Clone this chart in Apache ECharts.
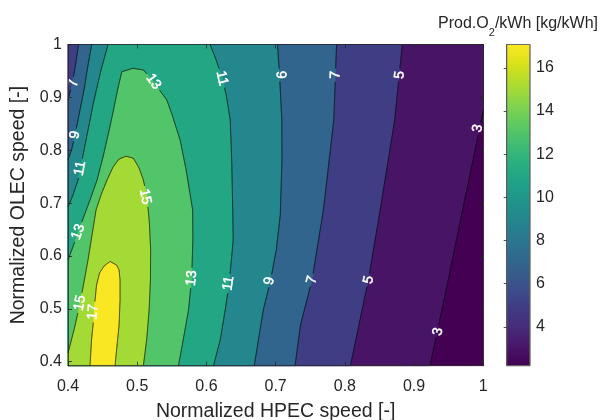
<!DOCTYPE html>
<html>
<head>
<meta charset="utf-8">
<script src="https://cdn.jsdelivr.net/npm/echarts@6/dist/echarts.min.js"></script>
<style>
  html, body { margin: 0; padding: 0; background: #fff; }
  #c { width: 600px; height: 420px; }
</style>
</head>
<body>
<div id="c"></div>
<script>
// ---- axis ranges and ticks ----
const xRange = [0.4, 1.0];
const yRange = [0.3925, 1.0];
const zRange = [2.2, 17.08];
const xTicks = [0.4, 0.5, 0.6, 0.7, 0.8, 0.9, 1.0];
const yTicks = [0.4, 0.5, 0.6, 0.7, 0.8, 0.9, 1.0];
const barTicks = [4, 6, 8, 10, 12, 14, 16];
const levels = [3, 5, 7, 9, 11, 13, 15, 17];

// ---- contour lines, [HPEC speed, OLEC speed]; higher values lie on the left-hand side ----
const c3 = [[0.923, 0.3925], [0.947, 0.54], [0.970, 0.687], [0.985, 0.78], [1.0, 0.876]];
const c5 = [[0.808, 0.3925], [0.822, 0.48], [0.834, 0.555], [0.851, 0.687], [0.872, 0.857], [0.883, 1.0]];
const c7Right = [[0.728, 0.3925], [0.736, 0.47], [0.7526, 0.555], [0.769, 0.687], [0.784, 0.857], [0.788, 1.0]];
const c7Left = [[0.4152, 1.0], [0.4109, 0.9612], [0.4058, 0.9234], [0.4, 0.895]];
const c9Right = [[0.6691, 0.3925], [0.6821, 0.4978], [0.6922, 0.5514], [0.7009, 0.6113], [0.7067, 0.6775],
  [0.7091, 0.7815], [0.7089, 0.8572], [0.706, 0.9328], [0.7028, 1.0]];
const c9Left = [[0.4343, 1.0], [0.4289, 0.9612], [0.4231, 0.9139], [0.4159, 0.8667], [0.4101, 0.8288],
  [0.4051, 0.8005], [0.4, 0.7815]];
const c11Right = [[0.6102, 0.3925], [0.6199, 0.441], [0.6271, 0.4977], [0.6329, 0.5488], [0.6387, 0.6301],
  [0.638, 0.6869], [0.6365, 0.7815], [0.6344, 0.8572], [0.6286, 0.9044], [0.6228, 0.9366], [0.6141, 0.9706], [0.6054, 1.0]];
const c11Left = [[0.4579, 1.0], [0.4477, 0.9518], [0.4376, 0.895], [0.4289, 0.8383], [0.4203, 0.7815],
  [0.4145, 0.7437], [0.4072, 0.7153], [0.4, 0.6926]];
const c13 = [[0.5596, 0.3925], [0.5664, 0.441], [0.5741, 0.4977], [0.5787, 0.5583], [0.5804, 0.6301],
  [0.5801, 0.6869], [0.5707, 0.7625], [0.562, 0.8193], [0.5505, 0.8666], [0.5428, 0.895], [0.5234, 0.9296],
  [0.5089, 0.9518], [0.494, 0.955], [0.4777, 0.9486], [0.4716, 0.9139], [0.4651, 0.8723], [0.4579, 0.8288],
  [0.4506, 0.7872], [0.442, 0.7437], [0.4318, 0.7059], [0.4231, 0.6756], [0.4149, 0.6454], [0.4065, 0.6151], [0.4, 0.5924]];
const c15 = [[0.5089, 0.3925], [0.5136, 0.441], [0.5172, 0.4977], [0.5191, 0.5545], [0.5194, 0.6112],
  [0.5176, 0.6623], [0.5143, 0.7115], [0.5089, 0.7437], [0.5027, 0.7664], [0.4945, 0.7848], [0.4839, 0.7887],
  [0.4738, 0.7834], [0.4651, 0.7683], [0.4564, 0.7437], [0.4477, 0.7153], [0.4405, 0.6869], [0.4347, 0.6396],
  [0.4289, 0.5924], [0.4231, 0.5508], [0.4174, 0.5111], [0.4094, 0.4638], [0.4, 0.4165]];
const c17 = [[0.468, 0.3925], [0.4709, 0.4316], [0.4738, 0.4694], [0.4752, 0.5167], [0.4752, 0.5545],
  [0.4738, 0.5734], [0.4702, 0.5829], [0.4608, 0.5896], [0.4521, 0.581], [0.4456, 0.5678], [0.4412, 0.5451],
  [0.4391, 0.5167], [0.4369, 0.4788], [0.434, 0.441], [0.4318, 0.3925]];

const contourPieces = [
  { level: 3, pts: c3 }, { level: 5, pts: c5 },
  { level: 7, pts: c7Right }, { level: 7, pts: c7Left },
  { level: 9, pts: c9Right }, { level: 9, pts: c9Left },
  { level: 11, pts: c11Right }, { level: 11, pts: c11Left },
  { level: 13, pts: c13 }, { level: 15, pts: c15 }, { level: 17, pts: c17 }
];

// inline labels: [level, x, y]
const contourLabels = [
  [3, 0.9345, 0.457], [3, 0.992, 0.8415],
  [5, 0.8345, 0.5546], [5, 0.8795, 0.9423],
  [7, 0.7526, 0.5546], [7, 0.7865, 0.9423], [7, 0.4077, 0.9266],
  [9, 0.691, 0.553], [9, 0.7072, 0.9423], [9, 0.4101, 0.8288],
  [11, 0.6319, 0.5483], [11, 0.6224, 0.9361], [11, 0.4174, 0.7658],
  [13, 0.5787, 0.5583], [13, 0.5234, 0.9296], [13, 0.4149, 0.6454],
  [15, 0.5114, 0.7121], [15, 0.4174, 0.5111],
  [17, 0.4362, 0.494]
];

// ---- viridis colour map ----
const viridisStops = ['#440154', '#481769', '#472c7a', '#3f3d84', '#3b528b', '#33638d', '#2c728e', '#26828e',
  '#21918c', '#1fa088', '#28ae80', '#3fbc73', '#5ec962', '#84d44b', '#addc30', '#d8e219', '#fde725'];
function hex2rgb(h) { return [1, 3, 5].map(i => parseInt(h.substr(i, 2), 16)); }
function viridis(t) {
  t = Math.max(0, Math.min(1, t));
  const f = t * (viridisStops.length - 1), i = Math.min(Math.floor(f), viridisStops.length - 2), u = f - i;
  const a = hex2rgb(viridisStops[i]), b = hex2rgb(viridisStops[i + 1]);
  return 'rgb(' + a.map((v, k) => Math.round(v + (b[k] - v) * u)).join(',') + ')';
}
const levelColor = z => viridis((z - zRange[0]) / (zRange[1] - zRange[0]));

// ---- superlevel regions: contour pieces joined by counter-clockwise walks along the frame ----
const [x0, x1] = xRange, [y0, y1] = yRange;
function frameParam(p) {
  const e = 1e-9;
  if (Math.abs(p[1] - y0) < e) return (p[0] - x0) / (x1 - x0);
  if (Math.abs(p[0] - x1) < e) return 1 + (p[1] - y0) / (y1 - y0);
  if (Math.abs(p[1] - y1) < e) return 2 + (x1 - p[0]) / (x1 - x0);
  return 3 + (y1 - p[1]) / (y1 - y0);
}
const frameCorner = k => [[x0, y0], [x1, y0], [x1, y1], [x0, y1]][k % 4];
function superlevelRings(level) {
  const pieces = contourPieces.filter(p => p.level === level);
  const used = new Set(), rings = [];
  pieces.forEach((first, fi) => {
    if (used.has(fi)) return;
    used.add(fi);
    const ring = first.pts.slice();
    let cur = first;
    for (let guard = 0; guard < 20; guard++) {
      const se = frameParam(cur.pts[cur.pts.length - 1]);
      let best = -1, bestD = Infinity;
      pieces.forEach((p, i) => {
        if (used.has(i) && i !== fi) return;
        let d = (frameParam(p.pts[0]) - se + 4) % 4;
        if (d < bestD) { bestD = d; best = i; }
      });
      for (let k = Math.floor(se) + 1; k < se + bestD; k++) ring.push(frameCorner(k));
      if (best === fi) break;
      used.add(best);
      cur = pieces[best];
      ring.push(...cur.pts);
    }
    rings.push(ring);
  });
  return rings;
}
const bandPolys = [{ color: levelColor(zRange[0]), rings: [[[x0, y0], [x1, y0], [x1, y1], [x0, y1]]] }]
  .concat(levels.map(l => ({ color: levelColor(l), rings: superlevelRings(l) })));

// ---- text helpers ----
const FONT = '"Liberation Sans", Arial, Helvetica, sans-serif';
const LABEL_FONT = '14px ' + FONT;
const ctx2d = document.createElement('canvas').getContext('2d');
function textWidth(t, font) { ctx2d.font = font; return ctx2d.measureText(t).width; }

function segDist(p, a, b) {
  const vx = b[0] - a[0], vy = b[1] - a[1];
  const l2 = vx * vx + vy * vy || 1;
  let t = ((p[0] - a[0]) * vx + (p[1] - a[1]) * vy) / l2;
  t = Math.max(0, Math.min(1, t));
  return Math.hypot(p[0] - a[0] - t * vx, p[1] - a[1] - t * vy);
}
// label position and angle along its contour, in pixels
function labelGeometry(api) {
  return contourLabels.map(([lv, x, y]) => {
    const c = api.coord([x, y]);
    let best = Infinity, dir = [1, 0];
    contourPieces.filter(p => p.level === lv).forEach(p => {
      const px = p.pts.map(q => api.coord(q));
      for (let i = 0; i < px.length - 1; i++) {
        const d = segDist(c, px[i], px[i + 1]);
        if (d < best) { best = d; dir = [px[i + 1][0] - px[i][0], px[i + 1][1] - px[i][1]]; }
      }
    });
    let ang = Math.atan2(-dir[1], dir[0]);
    if (ang > Math.PI / 2) ang -= Math.PI;
    if (ang <= -Math.PI / 2) ang += Math.PI;
    const text = String(lv);
    return { lv, c, ang, text, hw: textWidth(text, LABEL_FONT) / 2 + 2.5 };
  });
}

const AXIS_COLOR = '#262626';
const axisCommon = {
  axisLine: { show: true, onZero: false, lineStyle: { color: AXIS_COLOR, width: 0.8 } },
  splitLine: { show: false },
  z: 10
};
const fmt = v => String(+(+v).toFixed(2));

const chart = echarts.init(document.getElementById('c'), null, { renderer: 'canvas' });
chart.setOption({
  animation: false,
  backgroundColor: '#fff',
  textStyle: { fontFamily: FONT },
  grid: [
    { left: 68, top: 44.5, width: 415.3, height: 321.2, containLabel: false, outerBoundsMode: 'none' },
    { left: 506.7, top: 44.5, width: 23.3, height: 321.2, containLabel: false, outerBoundsMode: 'none' }
  ],
  xAxis: [
    Object.assign({}, axisCommon, {
      type: 'value', gridIndex: 0, position: 'bottom', min: xRange[0], max: xRange[1], interval: 0.1,
      axisTick: { show: true, inside: true, length: 4, lineStyle: { color: AXIS_COLOR, width: 0.8 } },
      axisLabel: { show: true, fontSize: 16, color: AXIS_COLOR, margin: 13, formatter: fmt, fontFamily: FONT },
      name: 'Normalized HPEC speed [-]', nameLocation: 'middle', nameGap: 36,
      nameTextStyle: { fontSize: 19.5, color: AXIS_COLOR, fontFamily: FONT }
    }),
    Object.assign({}, axisCommon, {
      type: 'value', gridIndex: 0, position: 'top', min: xRange[0], max: xRange[1], interval: 0.1,
      axisTick: { show: true, inside: true, length: 4, lineStyle: { color: AXIS_COLOR, width: 0.8 } },
      axisLabel: { show: false }
    }),
    { type: 'value', gridIndex: 1, min: 0, max: 1, show: false }
  ],
  yAxis: [
    Object.assign({}, axisCommon, {
      type: 'value', gridIndex: 0, position: 'left', min: yRange[0], max: yRange[1],
      axisTick: { show: true, inside: true, length: 4, customValues: yTicks, lineStyle: { color: AXIS_COLOR, width: 0.8 } },
      axisLabel: { show: true, fontSize: 16, color: AXIS_COLOR, margin: 6, customValues: yTicks, formatter: fmt, fontFamily: FONT },
      name: 'Normalized OLEC speed [-]', nameLocation: 'middle', nameGap: 32,
      nameTextStyle: { fontSize: 19.5, color: AXIS_COLOR, fontFamily: FONT }
    }),
    Object.assign({}, axisCommon, {
      type: 'value', gridIndex: 0, position: 'right', min: yRange[0], max: yRange[1],
      axisTick: { show: true, inside: true, length: 4, customValues: yTicks, lineStyle: { color: AXIS_COLOR, width: 0.8 } },
      axisLabel: { show: false }
    }),
    Object.assign({}, axisCommon, {
      type: 'value', gridIndex: 1, position: 'right', min: zRange[0], max: zRange[1],
      axisLine: { show: true, lineStyle: { color: '#555', width: 0.8 } },
      axisTick: { show: true, inside: true, length: 3, customValues: barTicks, lineStyle: { color: AXIS_COLOR, width: 0.8 } },
      axisLabel: { show: true, fontSize: 16, color: AXIS_COLOR, margin: 6, customValues: barTicks, formatter: fmt, fontFamily: FONT }
    })
  ],
  series: [
    {
      type: 'custom', name: 'bands', xAxisIndex: 0, yAxisIndex: 0, z: 2, silent: true,
      data: bandPolys.map(() => [x0, y0]),
      renderItem(params, api) {
        const b = bandPolys[params.dataIndex];
        return {
          type: 'group',
          children: b.rings.map(r => ({
            type: 'polygon',
            shape: { points: r.map(p => api.coord(p)) },
            style: { fill: b.color, stroke: b.color, lineWidth: 0.6 }
          }))
        };
      }
    },
    {
      type: 'custom', name: 'contours', xAxisIndex: 0, yAxisIndex: 0, z: 3, silent: true,
      data: contourPieces.map(p => p.pts[0]),
      renderItem(params, api) {
        const piece = contourPieces[params.dataIndex];
        const labs = labelGeometry(api).filter(l => l.lv === piece.level);
        const hidden = p => labs.some(l => {
          const dx = p[0] - l.c[0], dy = p[1] - l.c[1];
          const u = dx * Math.cos(l.ang) - dy * Math.sin(l.ang);
          const v = dx * Math.sin(l.ang) + dy * Math.cos(l.ang);
          return Math.abs(u) < l.hw && Math.abs(v) < 9;
        });
        const px = piece.pts.map(q => api.coord(q));
        const runs = [];
        let run = [];
        for (let i = 0; i < px.length - 1; i++) {
          const a = px[i], b = px[i + 1];
          const n = Math.max(1, Math.ceil(Math.hypot(b[0] - a[0], b[1] - a[1]) / 0.5));
          for (let k = (i === 0 ? 0 : 1); k <= n; k++) {
            const t = k / n, p = [a[0] + (b[0] - a[0]) * t, a[1] + (b[1] - a[1]) * t];
            if (hidden(p)) { if (run.length > 1) runs.push(run); run = []; }
            else run.push(p);
          }
        }
        if (run.length > 1) runs.push(run);
        return {
          type: 'group',
          children: runs.map(r => ({
            type: 'polyline', shape: { points: r },
            style: { stroke: '#000', lineWidth: 0.8, fill: null }
          }))
        };
      }
    },
    {
      type: 'custom', name: 'labels', xAxisIndex: 0, yAxisIndex: 0, z: 4, silent: true, clip: true,
      data: contourLabels.map(l => [l[1], l[2]]),
      renderItem(params, api) {
        const l = labelGeometry(api)[params.dataIndex];
        return {
          type: 'text', x: l.c[0], y: l.c[1], rotation: l.ang,
          style: {
            text: l.text, x: 0, y: 0, fill: '#fff', font: LABEL_FONT,
            stroke: '#fff', lineWidth: 0.5,
            align: 'center', verticalAlign: 'middle', textAlign: 'center', textVerticalAlign: 'middle'
          }
        };
      }
    },
    {
      type: 'custom', name: 'colorbar', xAxisIndex: 2, yAxisIndex: 2, z: 2, silent: true,
      data: [[0, zRange[0]]],
      renderItem(params, api) {
        const tl = api.coord([0, zRange[1]]), br = api.coord([1, zRange[0]]);
        return {
          type: 'rect',
          shape: { x: tl[0], y: tl[1], width: br[0] - tl[0], height: br[1] - tl[1] },
          style: {
            fill: {
              type: 'linear', x: 0, y: 1, x2: 0, y2: 0,
              colorStops: viridisStops.map((c, i) => ({ offset: i / (viridisStops.length - 1), color: c }))
            },
            stroke: '#666', lineWidth: 0.8
          }
        };
      }
    }
  ]
});

// colour bar title with a subscript
(function () {
  const main = '16px ' + FONT, sub = '11px ' + FONT;
  const parts = [['Prod.O', main, 25], ['2', sub, 33], ['/kWh [kg/kWh]', main, 25]];
  const total = parts.reduce((s, p) => s + textWidth(p[0], p[1]), 0);
  let x = 598 - total;
  const elements = parts.map(p => {
    const el = {
      type: 'text', left: x, top: p[2] - (p[1] === main ? 9 : 6),
      style: { text: p[0], font: p[1], fill: AXIS_COLOR }
    };
    x += textWidth(p[0], p[1]);
    return el;
  });
  chart.setOption({ graphic: elements });
})();
</script>
</body>
</html>
